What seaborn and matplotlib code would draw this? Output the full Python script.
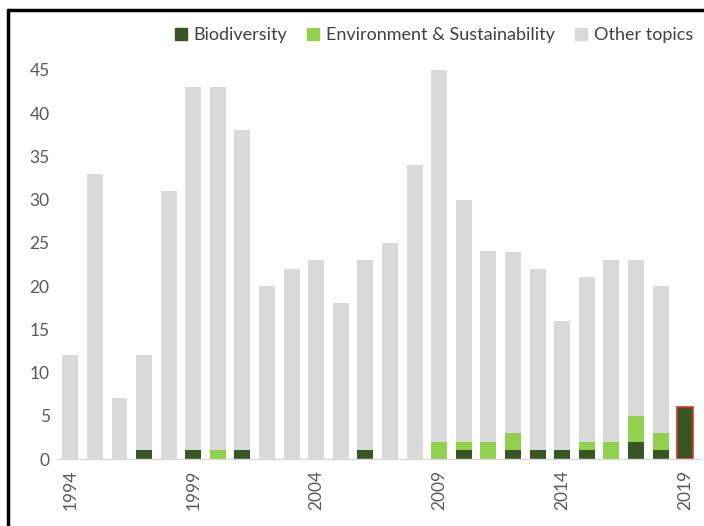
import matplotlib
matplotlib.use("Agg")
import matplotlib.pyplot as plt
import matplotlib.patches as mpatches
from matplotlib.lines import Line2D
import numpy as np
import pandas as pd
import seaborn as sns

# data
years = list(range(1994, 2020))
totals = [12, 33, 7, 12, 31, 43, 43, 38, 20, 22, 23, 18, 23, 25, 34, 45, 30, 24, 24, 22, 16, 21, 23, 23, 20, 6]
biodiversity = [0, 0, 0, 1, 0, 1, 0, 1, 0, 0, 0, 0, 1, 0, 0, 0, 1, 0, 1, 1, 1, 1, 0, 2, 1, 6]
environment = [0, 0, 0, 0, 0, 0, 1, 0, 0, 0, 0, 0, 0, 0, 0, 2, 1, 2, 2, 0, 0, 1, 2, 3, 2, 0]
other = [t - b - e for t, b, e in zip(totals, biodiversity, environment)]
tick_years = [1994, 1999, 2004, 2009, 2014, 2019]

c_bio = "#375623"
c_env = "#92D050"
c_other = "#D9D9D9"

df = pd.DataFrame({"year": [str(y) for y in years], "bio": biodiversity, "env": environment, "other": other})
df["bio_env"] = df["bio"] + df["env"]

sns.set_style("white")
plt.rcParams["font.family"] = ["Lato", "DejaVu Sans"]

fig = plt.figure(figsize=(7.04, 5.26), dpi=100)
ax = fig.add_axes([58 / 704, 67 / 526, 642 / 704, 415 / 526])

w = 0.65
sns.barplot(data=df, x="year", y="bio", color=c_bio, width=w, ax=ax, saturation=1, linewidth=0)
sns.barplot(data=df, x="year", y="env", bottom=df["bio"], color=c_env, width=w, ax=ax, saturation=1, linewidth=0)
sns.barplot(data=df, x="year", y="other", bottom=df["bio_env"], color=c_other, width=w, ax=ax, saturation=1, linewidth=0)

# red outline on the last (partial) year
last = ax.patches[len(years) - 1]
last.set_edgecolor("#E03020")
last.set_linewidth(1.2)

ax.set_xlim(-0.5, len(years) - 0.4)
ax.set_ylim(0, 48)
ax.set_yticks(range(0, 50, 5))
ax.set_xticks([years.index(y) for y in tick_years])
ax.set_xticklabels([str(y) for y in tick_years], rotation=90)
ax.tick_params(axis="both", length=0, labelsize=12.5, colors="#595959", pad=6)
ax.tick_params(axis="x", pad=8)
ax.set_xlabel("")
ax.set_ylabel("")
for s in ["top", "right", "left"]:
    ax.spines[s].set_visible(False)
ax.spines["bottom"].set_color("#D9D9D9")
ax.spines["bottom"].set_linewidth(1)

handles = [mpatches.Patch(color=c_bio, label="Biodiversity"),
           mpatches.Patch(color=c_env, label="Environment & Sustainability"),
           mpatches.Patch(color=c_other, label="Other topics")]
fig.legend(handles=handles, loc="center right", bbox_to_anchor=(1.008, 1 - 35 / 526), ncol=3,
           frameon=False, fontsize=13, handlelength=0.65, handleheight=0.65, handletextpad=0.4,
           columnspacing=1.1, labelcolor="#404040")

# frame lines at top and left of the image
fig.add_artist(Line2D([8 / 704, 1], [1 - 10 / 526, 1 - 10 / 526], color="black", lw=2.5))
fig.add_artist(Line2D([8 / 704, 8 / 704], [0, 1 - 10 / 526], color="black", lw=2.5))

fig.savefig("out.png", dpi=100)
